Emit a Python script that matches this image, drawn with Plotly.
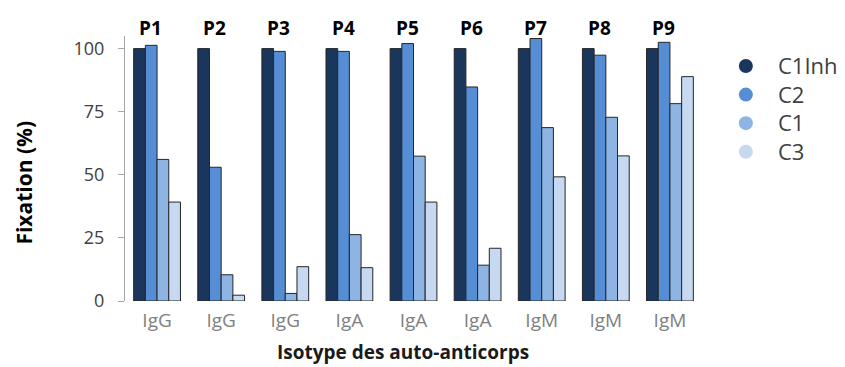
import plotly.graph_objects as go

# Patients and the isotype of their auto-antibodies
patients = ["P1", "P2", "P3", "P4", "P5", "P6", "P7", "P8", "P9"]
isotypes = ["IgG", "IgG", "IgG", "IgA", "IgA", "IgA", "IgM", "IgM", "IgM"]

# Fixation (%) per condition
c1inh = [100, 100, 100, 100, 100, 100, 100, 100, 100]
c2 = [101.3, 53, 98.9, 98.9, 102, 84.8, 104, 97.4, 102.5]
c1 = [56.1, 10.4, 3.0, 26.3, 57.4, 14.2, 68.7, 72.8, 78.2]
c3 = [39.2, 2.3, 13.6, 13.2, 39.2, 20.9, 49.2, 57.5, 88.9]

series_names = ["C1Inh", "C2", "C1", "C3"]
series_values = [c1inh, c2, c1, c3]
series_colors = ["#1b365d", "#558ed5", "#8eb4e3", "#c6d9f1"]

FONT = "Open Sans"
xs = list(range(len(patients)))

fig = go.Figure()
for name, vals, color in zip(series_names, series_values, series_colors):
    fig.add_trace(go.Bar(
        x=xs, y=vals, name=name, showlegend=False,
        marker=dict(color=color, line=dict(color="#262626", width=1)),
    ))

# Patient labels above each group
for i, p in enumerate(patients):
    fig.add_annotation(
        x=i - 0.31, y=1.0, xref="x", yref="paper", text=p,
        showarrow=False, xanchor="left", yanchor="bottom", yshift=-7,
        font=dict(family=FONT, size=19, color="#000000", weight="bold"),
    )

# Legend: round swatches next to a stacked list of labels
leg_font = 22
leg_step_px = 1.3 * leg_font          # line height of the label block
plot_h = 367 - 36 - 66
leg_step = leg_step_px / plot_h
leg_mid = 0.725
n = len(series_names)
for k, color in enumerate(series_colors):
    yk = leg_mid + ((n - 1) / 2 - k) * leg_step
    fig.add_shape(
        type="circle", xref="paper", yref="paper",
        xsizemode="pixel", ysizemode="pixel",
        xanchor=1.076, yanchor=yk,
        x0=-7, x1=7, y0=-7, y1=7,
        line=dict(width=0), fillcolor=color,
    )
fig.add_annotation(
    x=1.128, y=leg_mid, xref="paper", yref="paper",
    text="<br>".join(series_names), align="left",
    showarrow=False, xanchor="left", yanchor="middle", yshift=1,
    font=dict(family=FONT, size=leg_font, color="#404040"),
)

# Axis titles
fig.add_annotation(
    x=0.481, y=-0.193, xref="paper", yref="paper",
    text="Isotype des auto-anticorps", showarrow=False,
    xanchor="center", yanchor="middle",
    font=dict(family=FONT, size=19, color="#1a1a1a", weight="bold"),
)
fig.add_annotation(
    x=-0.175, y=0.447, xref="paper", yref="paper",
    text="Fixation (%)", showarrow=False, textangle=-90,
    xanchor="center", yanchor="middle",
    font=dict(family=FONT, size=21, color="#000000", weight="bold"),
)

fig.update_layout(
    width=845, height=367,
    margin=dict(l=125, r=143, t=36, b=66),
    paper_bgcolor="white", plot_bgcolor="white",
    barmode="group", bargap=0.27, bargroupgap=0,
    showlegend=False,
    font=dict(family=FONT, color="#404040"),
    xaxis=dict(
        range=[-0.5, 8.5], tickvals=xs, ticktext=isotypes,
        showline=False, showgrid=False, zeroline=False, ticks="",
        ticklabelstandoff=6,
        tickfont=dict(family=FONT, size=19, color="#7f7f7f"),
    ),
    yaxis=dict(
        range=[0, 105], tickvals=[0, 25, 50, 75, 100],
        showline=True, linecolor="#a6a6a6", linewidth=1,
        ticks="outside", ticklen=6, tickcolor="#a6a6a6",
        showgrid=False, zeroline=False, ticklabelstandoff=10,
        tickfont=dict(family=FONT, size=18, color="#404040"),
    ),
)

fig.write_html("out.html")
